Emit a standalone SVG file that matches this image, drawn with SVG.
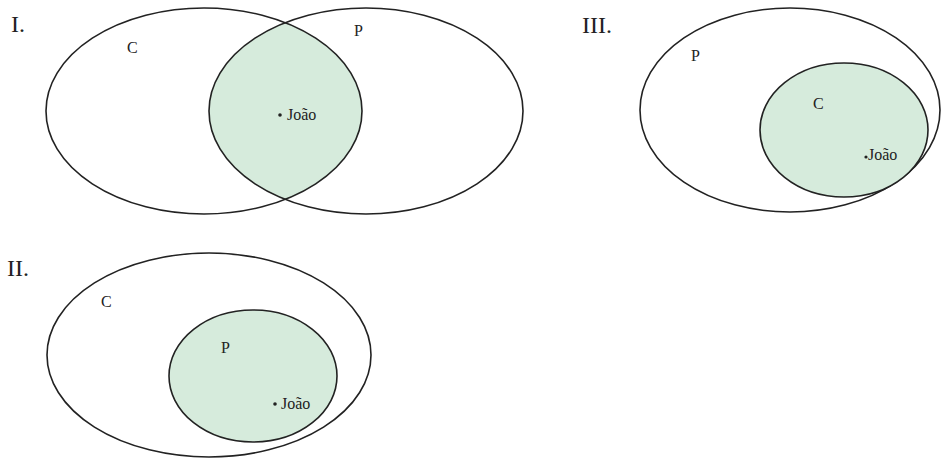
<svg xmlns="http://www.w3.org/2000/svg" width="942" height="459" viewBox="0 0 942 459">
<style>
.e{fill:none;stroke:#222;stroke-width:1.6}
.f{fill:#d6ebdc;stroke:#222;stroke-width:1.6}
.num{font-family:"Liberation Serif","Times New Roman",serif;font-size:24px;fill:#222}
.lb{font-family:"Liberation Serif","Times New Roman",serif;font-size:16px;fill:#222}
.dot{fill:#222}
</style>
<defs>
<clipPath id="clipC"><ellipse cx="204" cy="111" rx="158" ry="103"/></clipPath>
</defs>
<rect width="942" height="459" fill="#fff"/>
<g id="diagram-I">
<text class="num" x="11" y="32">I.</text>
<g id="I-lens"><ellipse cx="366" cy="111" rx="157" ry="103" fill="#d6ebdc" clip-path="url(#clipC)"/></g>
<g id="I-C"><ellipse class="e" cx="204" cy="111" rx="158" ry="103"/><text class="lb" x="127" y="53">C</text></g>
<g id="I-P"><ellipse class="e" cx="366" cy="111" rx="157" ry="103"/><text class="lb" x="354" y="36">P</text></g>
<g id="I-joao"><circle class="dot" cx="280" cy="115" r="1.8"/><text class="lb" x="287" y="120">João</text></g>
</g>
<g id="diagram-II">
<text class="num" x="7" y="276">II.</text>
<g id="II-C"><ellipse class="e" cx="209" cy="355" rx="162" ry="102"/><text class="lb" x="101" y="307">C</text></g>
<g id="II-P"><ellipse class="f" cx="253" cy="376" rx="84" ry="66"/><text class="lb" x="221" y="353">P</text></g>
<g id="II-joao"><circle class="dot" cx="275" cy="404" r="1.8"/><text class="lb" x="281" y="409">João</text></g>
</g>
<g id="diagram-III">
<text class="num" x="582" y="33">III.</text>
<g id="III-P"><ellipse class="e" cx="790" cy="110" rx="150" ry="102"/><text class="lb" x="691" y="61">P</text></g>
<g id="III-C"><ellipse class="f" cx="844" cy="130" rx="84" ry="67"/><text class="lb" x="813" y="109">C</text></g>
<g id="III-joao"><circle class="dot" cx="866" cy="157" r="1.6"/><text class="lb" x="868" y="160">João</text></g>
</g>
<g id="connectors"/>
</svg>
